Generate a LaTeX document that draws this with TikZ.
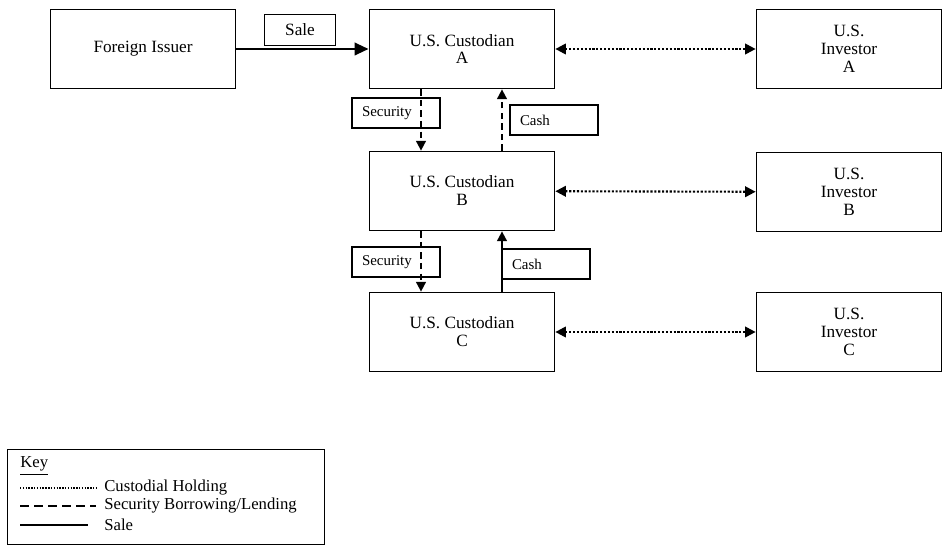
\documentclass[tikz,border=0pt]{standalone}
\usepackage{fontspec}
\setmainfont{Liberation Serif}
\usetikzlibrary{arrows.meta}

\begin{document}
\begin{tikzpicture}
  [x=0.02cm,y=-0.02cm,font=\fontsize{9.8}{10.2}\selectfont,
   every node/.style={align=center,inner sep=0pt},
   party/.style={draw,line width=1pt,minimum width=3.7cm,minimum height=1.58cm},
   tag/.style={draw,line width=1pt,minimum height=0.6cm,text width=1.36cm,
     inner xsep=0.2cm,align=left,font=\fontsize{8.5}{10}\selectfont},
   hold/.style={line width=1.2pt,dash pattern=on 1.2pt off 1pt,
     {Triangle[length=6pt,width=6pt]}-{Triangle[length=6pt,width=6pt]}},
   lend/.style={line width=1pt,dash pattern=on 3.5pt off 2.5pt,-{Triangle[length=5.5pt,width=5.5pt]}},
   sale/.style={line width=1.6pt,-{Triangle[length=8pt,width=7pt]}}]
  \useasboundingbox (0,0) rectangle (947,547);
  \node[party] (F) at (143,49) {Foreign Issuer};
  \node[party] (C_A) at (462,49) {U.S. Custodian\\A};
  \node[party] (C_B) at (462,191) {U.S. Custodian\\B};
  \node[party] (C_C) at (462,332) {U.S. Custodian\\C};
  \node[party] (I_A) at (849,49) {U.S.\\Investor\\A};
  \node[party] (I_B) at (849,192) {U.S.\\Investor\\B};
  \node[party] (I_C) at (849,332) {U.S.\\Investor\\C};
  \node[draw,line width=1pt,minimum width=1.42cm,minimum height=0.62cm] (S) at (300,30) {Sale};
  \node[tag] (Sec_A) at (396,113) {Security};
  \node[tag] (Cash_A) at (554,120) {Cash};
  \node[tag] (Sec_B) at (396,262) {Security};
  \node[tag] (Cash_B) at (546,264) {Cash};
  \draw[sale] (F) -- (C_A);
  \foreach \from/\to in {C_A/I_A,C_B/I_B,C_C/I_C}
    \draw[hold] (\from) -- (\to);
  \foreach \from/\to in {C_A/C_B,C_B/C_C}
    \draw[lend] ([xshift=-0.82cm]\from.south) -- ([xshift=-0.82cm]\to.north);
  \draw[lend] ([xshift=0.8cm]C_B.north) -- ([xshift=0.8cm]C_A.south);
  \draw[line width=1pt,-{Triangle[length=5.5pt,width=5.5pt]}] ([xshift=0.8cm]C_C.north) -- ([xshift=0.8cm]C_B.south);

  \node[draw,line width=1pt,minimum width=6.34cm,minimum height=1.9cm] (K) at (166,497) {};
  \node[anchor=west,font=\fontsize{9.5}{11}\selectfont] (K_0) at (20,466) {\underline{Key}};
  \node[anchor=west,font=\fontsize{9.5}{11}\selectfont] (K_1) at (104,488) {Custodial Holding};
  \node[anchor=west,font=\fontsize{9.5}{11}\selectfont] (K_2) at (104,506) {Security Borrowing/Lending};
  \node[anchor=west,font=\fontsize{9.5}{11}\selectfont] (K_3) at (104,525) {Sale};
  \draw[line width=0.8pt,dash pattern=on 0.8pt off 0.8pt] (20,488) -- (96,488);
  \draw[line width=1pt,dash pattern=on 5pt off 3pt] (20,506) -- (96,506);
  \draw[line width=1pt] (20,525) -- (88,525);

\end{tikzpicture}
\end{document}
